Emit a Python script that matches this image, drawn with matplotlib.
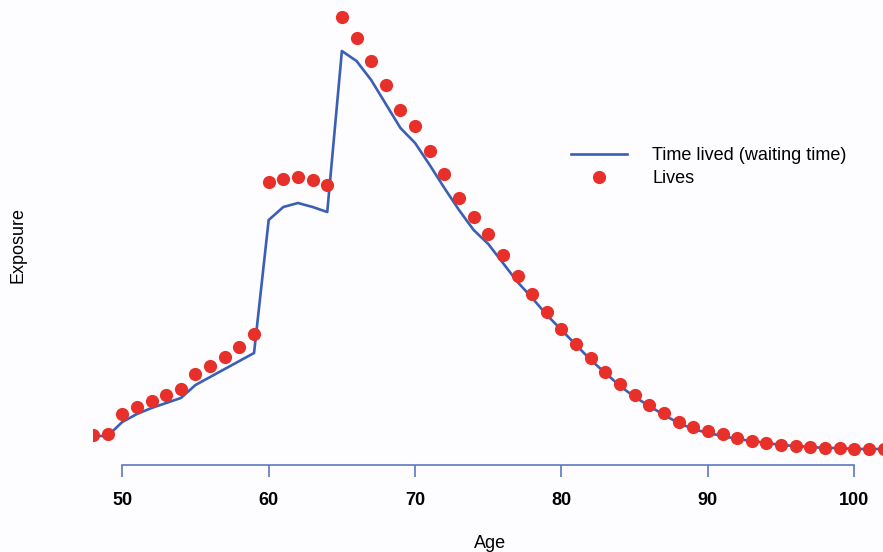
import matplotlib
matplotlib.use("Agg")
import matplotlib.pyplot as plt

plt.rcParams['font.family'] = ['Liberation Sans', 'DejaVu Sans']

# exposure by age (arbitrary units)
ages = list(range(48, 103))
time_lived = [29, 29, 43, 51, 57, 62, 67, 80, 88, 96, 104, 112,
              245, 258, 262, 258, 253,
              414, 404, 385, 361, 337, 322, 300, 277, 255, 235, 221, 202,
              183, 167, 150, 135, 120, 105, 92, 79, 68, 59, 50, 42, 36, 32,
              29, 26, 24, 22, 20, 19, 18, 17, 17, 16, 16, 16]
lives = [30, 31, 51, 58, 64, 70, 76, 91, 99, 108, 118, 131,
         283, 286, 288, 285, 280,
         448, 427, 404, 380, 355, 339, 314, 291, 267, 248, 231, 210,
         189, 171, 153, 136, 121, 107, 93, 81, 70, 60, 52, 43, 38, 34,
         31, 27, 24, 22, 20, 19, 18, 17, 17, 16, 16, 16]
xticks = [50, 60, 70, 80, 90, 100]

W, H = 883, 552
fig = plt.figure(figsize=(W / 100, H / 100), dpi=100)
fig.patch.set_facecolor('#fdfcfe')
left = 93 / W
bottom = (H - 465) / H
ax = fig.add_axes([left, bottom, 1 - left, 465 / H])
ax.set_facecolor('none')

ax.plot(ages, time_lived, color='#3b5fb4', lw=1.9, label='Time lived (waiting time)')
ax.plot(ages, lives, 'o', color='#e8302a', ms=9.5, mec='none', label='Lives')

ax.set_xlim(48, 48 + (W - 93) / 14.64)
ax.set_ylim(0, 465)

for s in ['top', 'right', 'left']:
    ax.spines[s].set_visible(False)
ax.spines['bottom'].set_bounds(50, 100)
ax.spines['bottom'].set_color('#5a78bf')
ax.spines['bottom'].set_linewidth(1.2)
ax.set_yticks([])
ax.set_xticks(xticks)
ax.tick_params(axis='x', length=8.5, width=1.2, color='#5a78bf', pad=11)
for t in ax.get_xticklabels():
    t.set_fontsize(13)
    t.set_fontweight('bold')

fig.text(490 / W, 1 - 543 / H, 'Age', ha='center', va='center', fontsize=13)
fig.text(18 / W, 1 - 245 / H, 'Exposure', ha='center', va='center', rotation=90, fontsize=13)

ax.legend(loc='center left', bbox_to_anchor=(555 / W, 1 - 167 / H), bbox_transform=fig.transFigure,
          frameon=False, fontsize=13, handlelength=3.1, handletextpad=1.4,
          labelspacing=0.35, numpoints=1)

fig.savefig('out.png', dpi=100, facecolor=fig.get_facecolor())
